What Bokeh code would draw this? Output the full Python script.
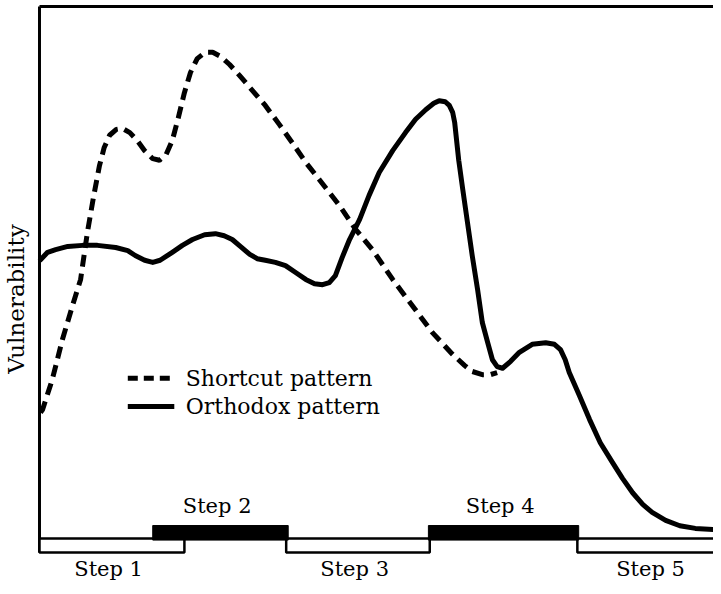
from bokeh.plotting import figure
from bokeh.models import Range1d
from bokeh.core.properties import value
from bokeh.embed import file_html
from bokeh.resources import INLINE

# ---- data (time 0-100 along the x axis, vulnerability 0-100) ----
shortcut_x = [0.15, 0.45, 1.9, 3.4, 4.9, 6.1, 7.1, 8.0, 8.9, 9.6, 10.4, 11.4, 12.3, 13.4, 14.5,
              15.6, 16.8, 17.8, 18.8, 19.7, 20.6, 21.5, 22.4, 23.4, 24.6, 25.7, 26.9, 28.2,
              29.7, 31.6, 33.5, 35.6, 37.5, 39.5, 41.5, 44.5, 46.9, 49.4, 52.4, 55.3, 58.3,
              61.3, 63.1, 64.2, 65.7, 66.9, 67.9]
shortcut_y = [23.7, 24.2, 29.9, 37.4, 43.8, 48.7, 57.5, 64.1, 70.1, 73.5, 75.8, 76.9, 77.1, 76.3,
              74.8, 72.9, 71.4, 71.1, 72.2, 74.8, 79.1, 83.8, 87.6, 90.2, 91.4, 91.4, 90.6, 89.1,
              87.0, 84.2, 81.4, 77.8, 74.4, 70.7, 67.5, 62.6, 58.1, 54.3, 48.7, 43.8, 38.7,
              34.6, 32.5, 31.4, 30.8, 30.8, 31.2]

orthodox_x = [0.15, 1.2, 2.4, 4.2, 6.4, 8.6, 11.3, 13.1, 14.2, 15.6, 16.8, 17.9, 19.7, 21.2,
              22.7, 24.5, 26.1, 27.4, 28.6, 29.8, 31.2, 32.3, 33.5, 35.0, 36.5, 38.0, 39.5,
              40.8, 42.0, 43.0, 43.9, 44.9, 46.0, 47.5, 48.9, 50.4, 52.4, 54.3, 55.8, 57.3,
              58.5, 59.3, 60.2, 60.8, 61.3, 61.6, 62.2, 62.8, 63.5, 64.2, 65.0, 65.7, 66.5,
              67.2, 67.9, 68.7, 69.9, 71.2, 73.1, 75.1, 76.4, 77.3, 78.0, 78.6, 80.1, 81.6,
              83.2, 85.0, 86.5, 88.0, 89.5, 90.9, 92.9, 95.0, 97.3, 100.0]
orthodox_y = [52.4, 53.8, 54.3, 54.9, 55.1, 55.1, 54.7, 54.1, 53.2, 52.3, 51.9, 52.3, 53.8, 55.1,
              56.2, 57.1, 57.3, 56.9, 56.2, 54.9, 53.4, 52.6, 52.3, 51.9, 51.3, 50.0, 48.7,
              47.9, 47.7, 48.1, 49.4, 52.8, 56.2, 60.0, 64.5, 68.8, 72.9, 76.3, 78.8, 80.6,
              81.8, 82.3, 82.1, 81.4, 80.1, 78.2, 71.1, 65.6, 59.4, 53.2, 46.8, 40.6, 36.8,
              33.6, 32.3, 32.0, 33.3, 35.0, 36.5, 36.8, 36.5, 35.5, 33.6, 31.2, 26.9, 22.4,
              18.0, 14.3, 11.3, 8.6, 6.4, 4.9, 3.4, 2.4, 1.9, 1.7]

# steps along the time axis; "up" steps are drawn as black bars, "down" steps as open boxes
step_names = ["Step  1", "Step  2", "Step  3", "Step  4", "Step  5"]
step_start = [0.0, 16.8, 36.6, 57.7, 79.8]
step_end = [21.5, 36.9, 57.9, 80.0, 102.5]
step_kind = ["down", "up", "down", "up", "down"]

series_names = ["Shortcut  pattern", "Orthodox pattern"]
axis_title = "Vulnerability"

FONT = value("DejaVu Serif")

p = figure(width=713, height=586, output_backend="svg", toolbar_location=None,
           x_range=Range1d(-5.786, 100.0), y_range=Range1d(-9.023, 101.13),
           min_border=0, min_border_left=0, min_border_right=0,
           min_border_top=0, min_border_bottom=0)
p.axis.visible = False
p.grid.visible = False
p.outline_line_color = None
p.background_fill_color = "white"
p.border_fill_color = "white"

# frame lines (top and left)
p.line([0, 100], [100, 100], line_color="black", line_width=3)
p.line([0, 0], [100, -2.63], line_color="black", line_width=3)

# step boxes
down = [i for i, k in enumerate(step_kind) if k == "down"]
up = [i for i, k in enumerate(step_kind) if k == "up"]
p.quad(left=[step_start[i] for i in down], right=[step_end[i] for i in down],
       bottom=-2.63, top=0, fill_color="white", line_color="black", line_width=2.5)
p.quad(left=[step_start[i] for i in up], right=[step_end[i] for i in up],
       bottom=-0.3, top=2.44, fill_color="black", line_color="black", line_width=1)

# step labels
mid = [(a + b) / 2 for a, b in zip(step_start, step_end)]
p.text(x=[mid[i] for i in up], y=6.2, text=[step_names[i] for i in up],
       text_font=FONT, text_font_size="21px", text_align="center",
       text_baseline="alphabetic", text_color="black")
p.text(x=[mid[i] for i in down], y=-5.7, text=[step_names[i] for i in down],
       text_font=FONT, text_font_size="21px", text_align="center",
       text_baseline="alphabetic", text_color="black")

# curves
p.line(shortcut_x, shortcut_y, line_color="black", line_width=5, line_dash="12 7")
p.line(orthodox_x, orthodox_y, line_color="black", line_width=5, line_join="round",
       line_cap="round")

# legend
p.line([13.1, 19.4], [30.1, 30.1], line_color="black", line_width=5, line_dash="10 6")
p.line([13.1, 20.0], [24.8, 24.8], line_color="black", line_width=5)
p.text(x=[21.7, 21.7], y=[30.1, 24.8], text=series_names, text_font=FONT,
       text_font_size="22px", text_align="left", text_baseline="alphabetic",
       text_color="black")

# axis title
p.text(x=[-3.5], y=[45.0], text=[axis_title], angle=1.5708, text_font=FONT,
       text_font_size="23px", text_align="center", text_baseline="middle",
       text_color="black")

open("out.html", "w").write(file_html(p, INLINE))
